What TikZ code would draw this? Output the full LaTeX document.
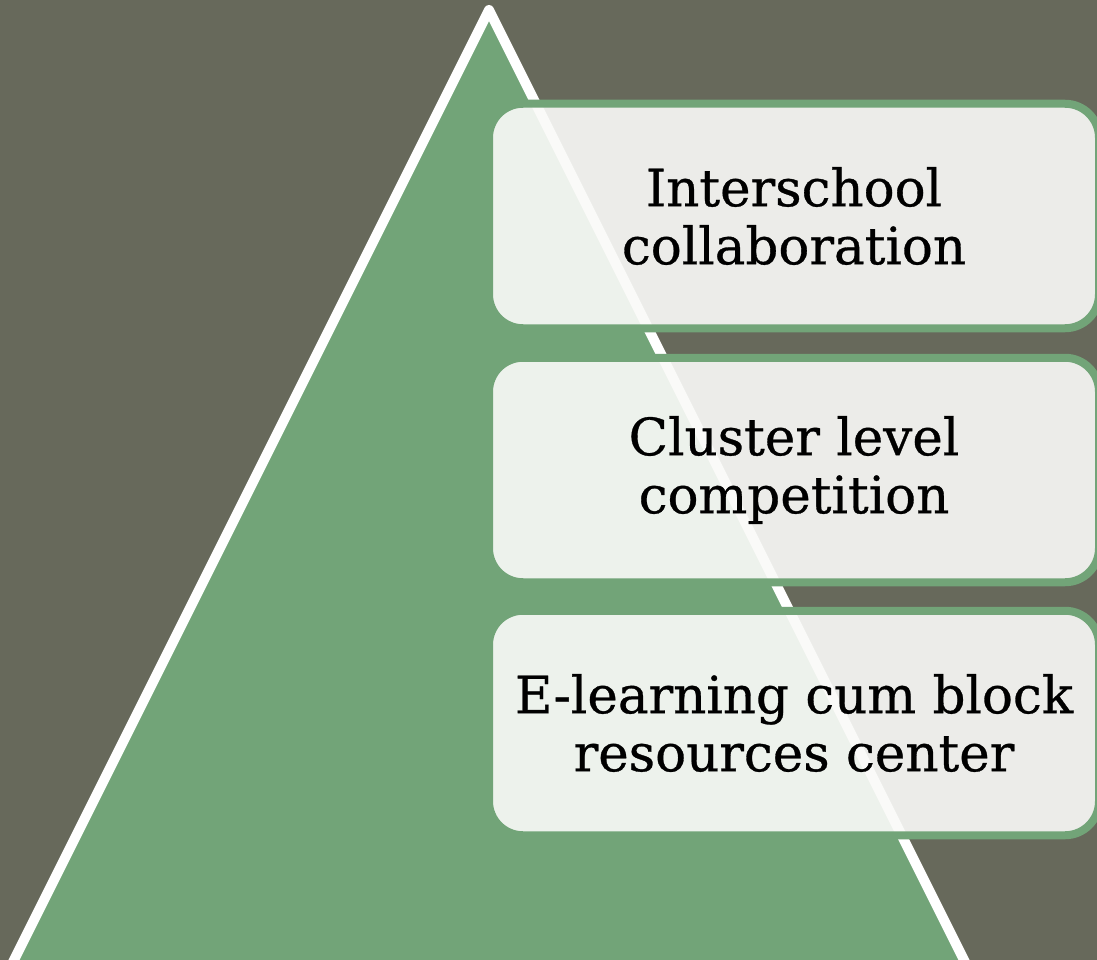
\documentclass[tikz,border=0pt]{standalone}
\usepackage{fontspec}
\setmainfont{DejaVu Serif}
\newfontfamily\tierfont{DejaVu Serif}[FakeBold=0.6]
\definecolor{slate}{RGB}{103,105,91}
\definecolor{leaf}{RGB}{114,164,120}
\definecolor{paper}{RGB}{250,250,248}
\tikzset{
  tierbox/.style={draw=leaf, line width=8pt, fill=paper, fill opacity=0.91,
    text opacity=1, rounded corners=34pt, minimum width=610pt,
    minimum height=224.5pt, align=center, text=black,
    font=\tierfont\fontsize{51.5}{58}\selectfont, inner sep=0pt},
}
\begin{document}
\begin{tikzpicture}[x=1pt,y=-1pt]
  % canvas
  \fill[slate] (0,0) rectangle (1097,960);
  \useasboundingbox (0,0) rectangle (1097,960);
  \clip (0,0) rectangle (1097,960);
  % pyramid
  \coordinate (apex) at (489,10);
  \coordinate (baseL) at (10,968);
  \coordinate (baseR) at (968,968);
  \filldraw[fill=leaf, draw=white, line width=10pt, line join=round]
    (apex) -- (baseR) -- (baseL) -- cycle;
  % tiers
  \node[tierbox] (tier1) at (794,216) {Interschool\\collaboration};
  \node[tierbox] (tier2) at (794,470) {Cluster level\\competition};
  \node[tierbox] (tier3) at (794,723) {E-learning cum block\\resources center};
\end{tikzpicture}
\end{document}
